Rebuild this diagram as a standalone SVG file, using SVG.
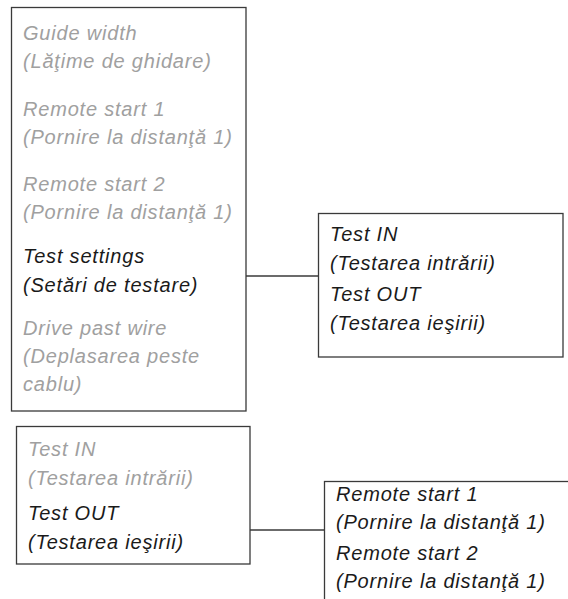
<svg xmlns="http://www.w3.org/2000/svg" width="568" height="599" viewBox="0 0 568 599">
<style>
.box{fill:#fff;stroke:#3a3a3a;stroke-width:1.3}
.conn{stroke:#3a3a3a;stroke-width:1.3;fill:none}
text{font-family:"Liberation Sans",Arial,sans-serif;font-style:italic;font-size:20px;letter-spacing:0.8px}
.g{fill:#a0a0a0}
.k{fill:#1a1a1a}
</style>
<rect width="568" height="599" fill="#fff"/>
<g id="connectors">
<line class="conn" x1="246" y1="276" x2="318" y2="276"/>
<line class="conn" x1="250" y1="530" x2="324" y2="530"/>
</g>
<g id="menu-main">
<rect class="box" x="11.5" y="7.5" width="234.5" height="403.5"/>
<text class="g" x="23" y="40">Guide width</text>
<text class="g" x="23" y="68">(Lăţime de ghidare)</text>
<text class="g" x="23" y="116">Remote start 1</text>
<text class="g" x="23" y="144">(Pornire la distanţă 1)</text>
<text class="g" x="23" y="191">Remote start 2</text>
<text class="g" x="23" y="219">(Pornire la distanţă 1)</text>
<text class="k" x="23" y="263">Test settings</text>
<text class="k" x="23" y="292">(Setări de testare)</text>
<text class="g" x="23" y="335">Drive past wire</text>
<text class="g" x="23" y="363">(Deplasarea peste</text>
<text class="g" x="23" y="391">cablu)</text>
</g>
<g id="menu-test">
<rect class="box" x="318.5" y="213.5" width="244.5" height="143.5"/>
<text class="k" x="330" y="241">Test IN</text>
<text class="k" x="330" y="270">(Testarea intrării)</text>
<text class="k" x="330" y="301">Test OUT</text>
<text class="k" x="330" y="330">(Testarea ieşirii)</text>
</g>
<g id="menu-test-out">
<rect class="box" x="16.5" y="426.5" width="233.5" height="137.5"/>
<text class="g" x="28" y="456">Test IN</text>
<text class="g" x="28" y="485">(Testarea intrării)</text>
<text class="k" x="28" y="520">Test OUT</text>
<text class="k" x="28" y="549">(Testarea ieşirii)</text>
</g>
<g id="menu-remote">
<rect class="box" x="324.5" y="481.5" width="300" height="200"/>
<text class="k" x="336" y="501">Remote start 1</text>
<text class="k" x="336" y="529">(Pornire la distanţă 1)</text>
<text class="k" x="336" y="560">Remote start 2</text>
<text class="k" x="336" y="588">(Pornire la distanţă 1)</text>
</g>
</svg>
